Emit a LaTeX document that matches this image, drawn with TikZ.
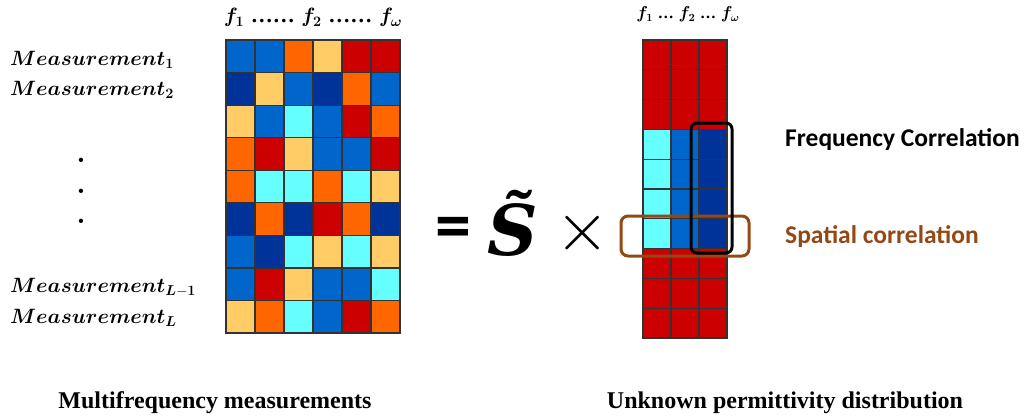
\documentclass[tikz,border=0pt]{standalone}
\usepackage{amsmath,amssymb}
\usepackage{bm}
\usepackage{graphicx}
\usepackage[no-math]{fontspec}
\newfontfamily\calibfont{Carlito}
\newfontfamily\timesfont{Liberation Serif}
\newfontfamily\heavyserif{DejaVu Serif}
\usetikzlibrary{positioning}
\definecolor{cellBlue}{HTML}{0066CC}
\definecolor{cellNavy}{HTML}{003399}
\definecolor{cellCyan}{HTML}{66FFFF}
\definecolor{cellOrange}{HTML}{FF6600}
\definecolor{cellSand}{HTML}{FFCC66}
\definecolor{cellRed}{HTML}{CC0000}
\definecolor{corrBrown}{RGB}{148,72,22}
\newcommand{\dotrun}[1]{{\timesfont\bfseries #1}}

\begin{document}
\begin{tikzpicture}[x=1pt, y=-1pt,
  cell/.style={draw=black!80, line width=1.2pt},
  meas/.style={font=\fontsize{20}{24}\selectfont, anchor=base west, inner sep=0pt},
  corr/.style={font=\calibfont\bfseries\fontsize{25.5}{30}\selectfont, anchor=base west, inner sep=0pt},
  caption/.style={font=\timesfont\bfseries\fontsize{24}{28}\selectfont, anchor=base, inner sep=0pt}]
  \useasboundingbox (0,0) rectangle (1028,415);
  % left matrix: measurements x frequencies
  \foreach \rowcols [count=\r] in {
      {cellBlue,cellBlue,cellOrange,cellSand,cellRed,cellRed},
      {cellNavy,cellSand,cellBlue,cellNavy,cellOrange,cellBlue},
      {cellSand,cellBlue,cellCyan,cellBlue,cellRed,cellOrange},
      {cellOrange,cellRed,cellSand,cellBlue,cellBlue,cellRed},
      {cellOrange,cellCyan,cellCyan,cellOrange,cellCyan,cellSand},
      {cellNavy,cellOrange,cellNavy,cellRed,cellOrange,cellNavy},
      {cellBlue,cellNavy,cellCyan,cellSand,cellCyan,cellSand},
      {cellBlue,cellRed,cellSand,cellBlue,cellBlue,cellCyan},
      {cellSand,cellOrange,cellCyan,cellBlue,cellRed,cellOrange}}
    \foreach \c [count=\k] in \rowcols
      \filldraw[cell, fill=\c] ({226+29*(\k-1)},{40+32.56*(\r-1)}) rectangle ++(29,32.56);
  % right matrix: permittivity per pixel and frequency
  \foreach \r in {1,2,3,8,9,10}
    \foreach \k in {1,2,3}
      \filldraw[cell, fill=cellRed] ({643+28*(\k-1)},{40+29.8*(\r-1)}) rectangle ++(28,29.8);
  \foreach \r in {4,...,7}
    \foreach \k/\c in {1/cellCyan,2/cellBlue,3/cellNavy}
      \filldraw[cell, fill=\c] ({643+28*(\k-1)},{40+29.8*(\r-1)}) rectangle ++(28,29.8);
  % correlation boxes
  \draw[corrBrown, line width=3pt, rounded corners=7pt] (621,216) rectangle (749,256);
  \draw[line width=3pt, rounded corners=6pt] (691,123) rectangle (732,253);
  % headers
  \node[font=\fontsize{22}{26}\selectfont, anchor=base, inner sep=0pt] (hdrMeas) at (313,23)
    {$\bm{f}_{\mathbf{1}}$ \dotrun{……} $\bm{f}_{\mathbf{2}}$ \dotrun{……} $\bm{f}_{\bm{\omega}}$};
  \node[font=\fontsize{16}{19}\selectfont, anchor=base, inner sep=0pt] (hdrPerm) at (688,19)
    {$\bm{f}_{\mathbf{1}}$ \dotrun{…} $\bm{f}_{\mathbf{2}}$ \dotrun{…} $\bm{f}_{\bm{\omega}}$};
  % measurement labels
  \node[meas] (meas1) at (10,65) {$\bm{Measurement}_{\mathbf{1}}$};
  \node[meas] (meas2) at (10,95) {$\bm{Measurement}_{\mathbf{2}}$};
  \node[meas] (measLm) at (10,292) {$\bm{Measurement}_{\bm{L}\mathbf{-1}}$};
  \node[meas] (measL) at (10,323) {$\bm{Measurement}_{\bm{L}}$};
  \foreach \y [count=\i] in {162,193,223}
    \node[font=\bfseries\fontsize{30}{34}\selectfont, anchor=base, inner sep=0pt] (vdot\i) at (81,\y) {.};
  % product
  \node[font=\calibfont\bfseries\fontsize{72}{80}\selectfont, inner sep=0pt] (eqSign) at (453,233) {=};
  \node[font=\heavyserif\bfseries\itshape\fontsize{70}{80}\selectfont, anchor=base, inner sep=0pt] (sMat) at (513,255)
    {S^^^^0303};
  \node[font=\fontsize{24}{28}\selectfont, inner sep=0pt] (timesSign) at (583,233)
    {\scalebox{2.8}{$\times$}};
  % correlation labels
  \node[corr] (freqLbl) at (785,146) {Frequency Correlation};
  \node[corr, text=corrBrown] (spatLbl) at (785,243) {Spatial correlation};
  % captions
  \node[caption] (capMeas) at (215,408) {Multifrequency measurements};
  \node[caption] (capPerm) at (785,408) {Unknown permittivity distribution};
\end{tikzpicture}
\end{document}
